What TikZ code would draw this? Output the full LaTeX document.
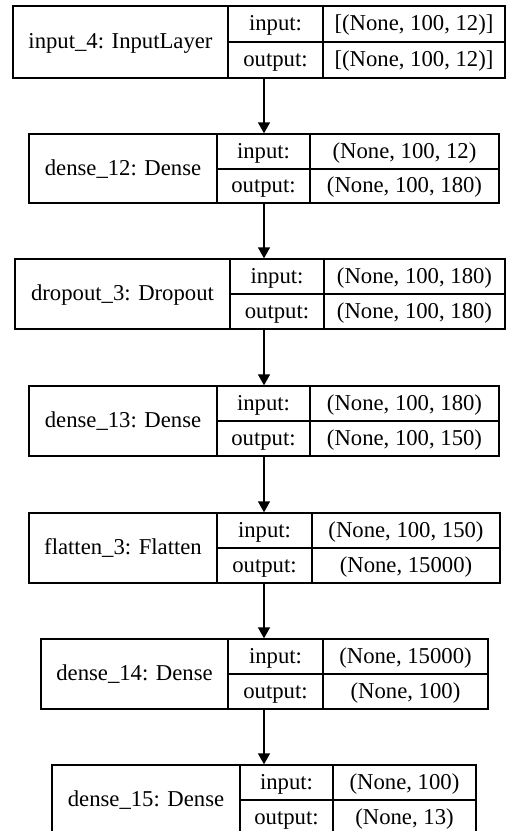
\documentclass[tikz,border=0pt]{standalone}
\usepackage{fontspec}
\setmainfont{Liberation Serif}
\usetikzlibrary{arrows.meta}

\begin{document}
\begin{tikzpicture}[x=1pt,y=-1pt,
  layer/.style={draw,line width=1.4pt,inner sep=0pt,minimum height=70pt},
  cell/.style={line width=1.4pt},
  txt/.style={font=\fontsize{22.7}{27}\selectfont,inner sep=0pt,anchor=base},
  flow/.style={-{Triangle[length=11pt,width=12pt]},line width=1.4pt}]
  \clip (0,0) rectangle (507,831);
  \coordinate (ax) at (264,0);
  % input_4
  \node[layer,minimum width=492pt,minimum height=72pt] (in4) at (259,42) {};
  \draw[cell] (228,6) -- (228,78); \draw[cell] (323,6) -- (323,78); \draw[cell] (228,42) -- (505,42);
  \node[txt] (in4lbl) at (120.5,48.5) {input\_4: InputLayer};
  \node[txt] (in4i) at (275.5,30.5) {input:}; \node[txt] (in4iv) at (414,30.5) {[(None, 100, 12)]};
  \node[txt] (in4o) at (275.5,66.5) {output:}; \node[txt] (in4ov) at (414,66.5) {[(None, 100, 12)]};
  % dense_12
  \node[layer,minimum width=470pt,minimum height=69pt] (d12) at (264,168.5) {};
  \draw[cell] (217,134) -- (217,203); \draw[cell] (310,134) -- (310,203); \draw[cell] (217,169) -- (499,169);
  \node[txt] (d12lbl) at (123,175) {dense\_12: Dense};
  \node[txt] (d12i) at (263.5,158) {input:}; \node[txt] (d12iv) at (404.5,158) {(None, 100, 12)};
  \node[txt] (d12o) at (263.5,192.5) {output:}; \node[txt] (d12ov) at (404.5,192.5) {(None, 100, 180)};
  % dropout_3
  \node[layer,minimum width=490pt] (dr3) at (260,294) {};
  \draw[cell] (230,259) -- (230,329); \draw[cell] (324,259) -- (324,329); \draw[cell] (230,294) -- (505,294);
  \node[txt] (dr3lbl) at (122.5,300.5) {dropout\_3: Dropout};
  \node[txt] (dr3i) at (277,283) {input:}; \node[txt] (dr3iv) at (414.5,283) {(None, 100, 180)};
  \node[txt] (dr3o) at (277,318) {output:}; \node[txt] (dr3ov) at (414.5,318) {(None, 100, 180)};
  % dense_13
  \node[layer,minimum width=470pt] (d13) at (264,421) {};
  \draw[cell] (217,386) -- (217,456); \draw[cell] (310,386) -- (310,456); \draw[cell] (217,421) -- (499,421);
  \node[txt] (d13lbl) at (123,427.5) {dense\_13: Dense};
  \node[txt] (d13i) at (263.5,410) {input:}; \node[txt] (d13iv) at (404.5,410) {(None, 100, 180)};
  \node[txt] (d13o) at (263.5,445) {output:}; \node[txt] (d13ov) at (404.5,445) {(None, 100, 150)};
  % flatten_3
  \node[layer,minimum width=471pt] (fl3) at (264.5,548) {};
  \draw[cell] (217,513) -- (217,583); \draw[cell] (312,513) -- (312,583); \draw[cell] (217,548) -- (500,548);
  \node[txt] (fl3lbl) at (123,554.5) {flatten\_3: Flatten};
  \node[txt] (fl3i) at (264.5,537) {input:}; \node[txt] (fl3iv) at (406,537) {(None, 100, 150)};
  \node[txt] (fl3o) at (264.5,572) {output:}; \node[txt] (fl3ov) at (406,572) {(None, 15000)};
  % dense_14
  \node[layer,minimum width=447pt] (d14) at (264.5,674) {};
  \draw[cell] (228,639) -- (228,709); \draw[cell] (323,639) -- (323,709); \draw[cell] (228,674) -- (488,674);
  \node[txt] (d14lbl) at (134.5,680.5) {dense\_14: Dense};
  \node[txt] (d14i) at (275.5,663) {input:}; \node[txt] (d14iv) at (405.5,663) {(None, 15000)};
  \node[txt] (d14o) at (275.5,698) {output:}; \node[txt] (d14ov) at (405.5,698) {(None, 100)};
  % dense_15
  \node[layer,minimum width=424pt] (d15) at (264,800) {};
  \draw[cell] (240,765) -- (240,835); \draw[cell] (333,765) -- (333,835); \draw[cell] (240,800) -- (476,800);
  \node[txt] (d15lbl) at (146,806.5) {dense\_15: Dense};
  \node[txt] (d15i) at (286.5,789) {input:}; \node[txt] (d15iv) at (404.5,789) {(None, 100)};
  \node[txt] (d15o) at (286.5,824) {output:}; \node[txt] (d15ov) at (404.5,824) {(None, 13)};
  % arrows
  \draw[flow] (in4.south -| ax) -- (d12.north -| ax);
  \draw[flow] (d12.south -| ax) -- (dr3.north -| ax);
  \draw[flow] (dr3.south -| ax) -- (d13.north -| ax);
  \draw[flow] (d13.south -| ax) -- (fl3.north -| ax);
  \draw[flow] (fl3.south -| ax) -- (d14.north -| ax);
  \draw[flow] (d14.south -| ax) -- (d15.north -| ax);
\end{tikzpicture}
\end{document}
